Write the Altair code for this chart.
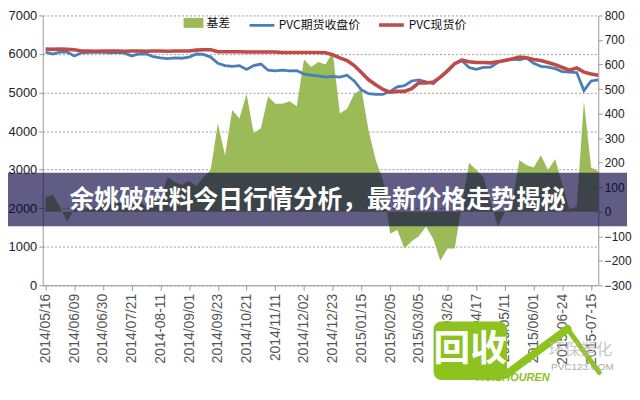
import json
import altair as alt
import pandas as pd

# x-axis tick labels (one per tick position 0..19)
date_labels = ["2014/05/16", "2014/06/09", "2014/06/30", "2014/07/21", "2014-08-11",
               "2014/09/01", "2014/09/23", "2014/10/21", "2014/11/11", "2014/12/02",
               "2014/12/23", "2015/01/15", "2015/02/05", "2015/03/05", "2015/03/26",
               "2015/04/17", "2015/05/11", "2015/06/01", "2015-06-24", "2015-07-15"]

# PVC futures close (left axis), sampled every quarter tick interval
futures = [6050, 6000, 6050, 6050, 5950, 6030, 6040, 6050, 6040, 6030,
           6040, 6020, 5950, 6000, 6000, 5930, 5900, 5880, 5900, 5890,
           5920, 6000, 5990, 5920, 5760, 5700, 5680, 5700, 5600, 5700,
           5740, 5580, 5560, 5580, 5560, 5570, 5480, 5450, 5430, 5400,
           5420, 5400, 5450, 5300, 5070, 4970, 4950, 4950, 5030, 5150,
           5180, 5300, 5330, 5280, 5230, 5400, 5580, 5750, 5830, 5650,
           5600, 5650, 5660, 5780, 5840, 5870, 5850, 5900, 5760, 5680,
           5660, 5620, 5540, 5530, 5520, 5050, 5300, 5330]

# PVC spot price (left axis)
spot = [6130, 6120, 6130, 6120, 6110, 6080, 6080, 6070, 6080, 6080,
        6080, 6070, 6080, 6080, 6070, 6080, 6080, 6070, 6080, 6080,
        6080, 6100, 6110, 6110, 6060, 6060, 6060, 6060, 6050, 6050,
        6050, 6050, 6050, 6040, 6040, 6040, 6040, 6040, 6040, 6030,
        5980, 5900, 5830, 5700, 5520, 5330, 5200, 5080, 5010, 5030,
        5030, 5100, 5250, 5250, 5270, 5400, 5560, 5750, 5840, 5800,
        5780, 5780, 5770, 5800, 5830, 5870, 5920, 5900, 5860, 5830,
        5780, 5720, 5650, 5580, 5640, 5530, 5480, 5450]

# basis (right axis)
basis = [60, 70, 20, -40, 10, 15, 10, 20, 40, 30,
         40, 30, 50, 45, 20, 40, 50, 140, 120, 110,
         125, 105, 140, 170, 360, 230, 415, 380, 480, 320,
         340, 470, 440, 440, 450, 430, 620, 590, 610, 600,
         650, 400, 420, 480, 500, 330, 210, 130, -90, -75,
         -150, -120, -100, -60, -110, -200, -150, -150, 30, 200,
         170, 140, 40, -60, 0, 30, 210, 190, 180, 230,
         170, 215, 110, 10, 20, 450, 180, 165]

pos = [i * 0.25 for i in range(len(futures))]

W, H = 560, 272
FONT = "Liberation Sans"
CJK = "Noto Sans CJK SC"

lines_df = pd.DataFrame({
    "pos": pos * 2,
    "value": futures + spot,
    "series": ["PVC期货收盘价"] * len(futures) + ["PVC现货价"] * len(spot),
})
basis_df = pd.DataFrame({"pos": pos, "basis": basis, "series": ["基差"] * len(basis)})
dummy = pd.DataFrame({"d": [0]})

label_expr = json.dumps(date_labels, ensure_ascii=False) + "[datum.value]"
x_axis = alt.Axis(values=list(range(len(date_labels))), labelExpr=label_expr, labelAngle=270,
                  labelFont=FONT, labelFontSize=14, labelColor="#555", labelFlush=False,
                  labelPadding=3, tickColor="#999", tickSize=5, domainColor="#999",
                  grid=False, title=None)
x_enc = alt.X("pos:Q", scale=alt.Scale(domain=[-0.1, 19.25], nice=False, zero=False), axis=x_axis)

area = alt.Chart(basis_df).mark_area(opacity=1).encode(
    x=x_enc,
    y=alt.Y("basis:Q", scale=alt.Scale(domain=[-300, 800], nice=False),
            axis=alt.Axis(orient="right", values=list(range(-300, 801, 100)), format="d",
                          grid=False, domainColor="#999", tickColor="#999", tickSize=4,
                          labelFont=FONT, labelFontSize=12, labelColor="#222",
                          labelPadding=2, title=None)),
    y2=alt.datum(0),
    fill=alt.Fill("series:N", scale=alt.Scale(domain=["基差"], range=["#9bbb59"]),
                  legend=alt.Legend(orient="none", legendX=142, legendY=-2.5, title=None,
                                    symbolType="M-1,-0.5L1,-0.5L1,0.5L-1,0.5Z", symbolSize=400,
                                    symbolStrokeWidth=0, labelFont=CJK, labelFontSize=12,
                                    labelColor="#111", labelOffset=3, padding=0)),
)

lines = alt.Chart(lines_df).mark_line().encode(
    x=x_enc,
    y=alt.Y("value:Q", scale=alt.Scale(domain=[0, 7000], nice=False),
            axis=alt.Axis(orient="left", values=list(range(0, 7001, 1000)), format="d",
                          grid=True, gridDash=[2, 2], gridColor="#999", domainColor="#999",
                          tickColor="#999", tickSize=4, labelFont=FONT, labelFontSize=13,
                          labelColor="#222", labelPadding=2, title=None)),
    color=alt.Color("series:N",
                    scale=alt.Scale(domain=["PVC期货收盘价", "PVC现货价"], range=["#4a7ebb", "#be4b48"]),
                    legend=alt.Legend(orient="none", legendX=207, legendY=-5, title=None,
                                      direction="horizontal", symbolType="stroke", symbolSize=625,
                                      symbolStrokeWidth=3, labelFont=CJK, labelFontSize=12,
                                      labelColor="#111", labelOffset=3, columnPadding=10,
                                      padding=0)),
    strokeWidth=alt.StrokeWidth("series:N",
                                scale=alt.Scale(domain=["PVC期货收盘价", "PVC现货价"], range=[2.8, 3.6]),
                                legend=None),
    detail="series:N",
)

band = alt.Chart(dummy).mark_rect(color="#0a0540", opacity=0.65).encode(
    x=alt.value(-35), x2=alt.value(589), y=alt.value(158.5), y2=alt.value(212.5))
banner = alt.Chart(dummy).mark_text(
    text="余姚破碎料今日行情分析，最新价格走势揭秘", font=CJK, fontWeight="bold",
    fontSize=25, color="white", align="center", baseline="middle"
).encode(x=alt.value(277), y=alt.value(186))

# watermark logo
wm_box = alt.Chart(dummy).mark_rect(color="#8dc21f", cornerRadius=8).encode(
    x=alt.value(394), x2=alt.value(468), y=alt.value(308.5), y2=alt.value(367.5))
wm_text = alt.Chart(dummy).mark_text(text="回收", font=CJK, fontWeight="bold", fontSize=37,
                                     color="white", align="center", baseline="middle").encode(
    x=alt.value(431), y=alt.value(337.5))
wm_stroke1 = alt.Chart(dummy).mark_rule(color="#8dc21f", strokeWidth=8, strokeCap="round").encode(
    x=alt.value(467), y=alt.value(362), x2=alt.value(529), y2=alt.value(316))
wm_stroke2 = alt.Chart(dummy).mark_rule(color="#8dc21f", strokeWidth=5, strokeCap="round").encode(
    x=alt.value(529), y=alt.value(316), x2=alt.value(561), y2=alt.value(360))
wm_cn = alt.Chart(dummy).mark_text(text="环保塑化", font=CJK, fontSize=16, color="#bbbbbb",
                                   opacity=0.8, align="center", baseline="middle").encode(
    x=alt.value(542), y=alt.value(337.5))
wm_url = alt.Chart(dummy).mark_text(text="PVC123.COM", font=FONT, fontSize=10, color="#aaaaaa",
                                    align="center", baseline="middle").encode(
    x=alt.value(544), y=alt.value(354))
wm_en = alt.Chart(dummy).mark_text(text="HUISHOUREN", font=FONT, fontSize=11, fontWeight="bold",
                                   fontStyle="italic", color="#8dc21f", align="center",
                                   baseline="middle").encode(
    x=alt.value(474), y=alt.value(365))

chart = alt.layer(area, lines, band, banner, wm_box, wm_text, wm_stroke1, wm_stroke2,
                  wm_cn, wm_url, wm_en).resolve_scale(y="independent").properties(
    width=W, height=H, padding=0, background="white"
).configure_view(stroke=None)

chart.save("out.html", embed_options={"renderer": "svg", "actions": False})
